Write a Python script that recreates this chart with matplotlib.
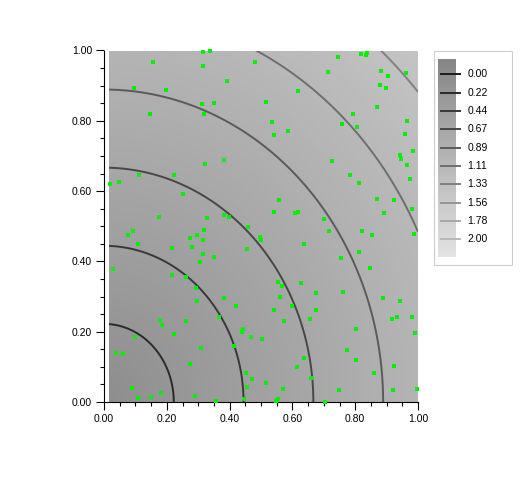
import numpy as np
import matplotlib
matplotlib.use("Agg")
import matplotlib.pyplot as plt
from matplotlib.colors import LinearSegmentedColormap, Normalize
from matplotlib.patches import Rectangle
from matplotlib.ticker import MultipleLocator, FormatStrFormatter

# contour levels and their line colours
levels = [0.0, 0.2222, 0.4444, 0.6667, 0.8889, 1.1111, 1.3333, 1.5556, 1.7778, 2.0]
level_labels = ['0.00', '0.22', '0.44', '0.67', '0.89', '1.11', '1.33', '1.56', '1.78', '2.00']
line_colors = ['#1c1c1c', '#2a2a2a', '#383838', '#474747', '#5a5a5a',
               '#6e6e6e', '#818181', '#959595', '#a8a8a8', '#bababa']

# scattered sample points
pts_x = [0.314, 0.337, 0.156, 0.314, 0.480, 0.392, 0.097, 0.197, 0.311, 0.350,
         0.145, 0.317, 0.381, 0.321, 0.746, 0.819, 0.838, 0.835, 0.713, 0.883,
         0.905, 0.963, 0.880, 0.899, 0.618, 0.516, 0.870, 0.794, 0.535, 0.586,
         0.542, 0.759, 0.806, 0.966, 0.959, 0.985, 0.944, 0.947, 0.966, 0.727,
         0.111, 0.223, 0.049, 0.019, 0.251, 0.175, 0.328, 0.382, 0.398, 0.459,
         0.092, 0.076, 0.317, 0.296, 0.273, 0.314, 0.497, 0.500, 0.108, 0.280,
         0.215, 0.456, 0.314, 0.350, 0.306, 0.028, 0.215, 0.261, 0.783, 0.812,
         0.975, 0.558, 0.870, 0.924, 0.541, 0.609, 0.618, 0.892, 0.981, 0.701,
         0.717, 0.822, 0.854, 0.987, 0.637, 0.813, 0.755, 0.848, 0.553, 0.628,
         0.293, 0.381, 0.419, 0.296, 0.177, 0.184, 0.260, 0.366, 0.443, 0.438,
         0.468, 0.503, 0.222, 0.098, 0.308, 0.413, 0.038, 0.060, 0.273, 0.452,
         0.471, 0.456, 0.088, 0.107, 0.149, 0.181, 0.289, 0.445, 0.357, 0.566,
         0.676, 0.762, 0.561, 0.889, 0.944, 0.598, 0.541, 0.676, 0.934, 0.917,
         0.982, 0.656, 0.574, 0.803, 0.991, 0.774, 0.637, 0.803, 0.615, 0.923,
         0.861, 0.660, 0.516, 0.570, 0.749, 0.921, 0.998, 0.553, 0.548, 0.704]
pts_y = [0.995, 0.998, 0.967, 0.956, 0.967, 0.913, 0.893, 0.887, 0.847, 0.850,
         0.819, 0.819, 0.688, 0.677, 0.981, 0.990, 0.993, 0.987, 0.939, 0.941,
         0.927, 0.936, 0.902, 0.893, 0.884, 0.853, 0.839, 0.819, 0.796, 0.771,
         0.759, 0.790, 0.782, 0.799, 0.762, 0.714, 0.702, 0.691, 0.674, 0.685,
         0.645, 0.645, 0.625, 0.620, 0.591, 0.526, 0.523, 0.531, 0.526, 0.497,
         0.486, 0.475, 0.489, 0.475, 0.466, 0.460, 0.469, 0.460, 0.449, 0.440,
         0.438, 0.435, 0.420, 0.412, 0.398, 0.378, 0.361, 0.355, 0.645, 0.623,
         0.634, 0.574, 0.577, 0.574, 0.540, 0.537, 0.540, 0.537, 0.549, 0.520,
         0.486, 0.486, 0.475, 0.477, 0.449, 0.426, 0.409, 0.381, 0.341, 0.339,
         0.324, 0.295, 0.272, 0.287, 0.233, 0.218, 0.230, 0.241, 0.207, 0.198,
         0.184, 0.178, 0.193, 0.184, 0.153, 0.159, 0.139, 0.136, 0.107, 0.082,
         0.065, 0.042, 0.039, 0.011, 0.013, 0.025, 0.016, 0.008, 0.002, 0.329,
         0.309, 0.312, 0.298, 0.295, 0.287, 0.272, 0.261, 0.261, 0.241, 0.235,
         0.241, 0.235, 0.230, 0.207, 0.196, 0.147, 0.124, 0.119, 0.099, 0.102,
         0.082, 0.067, 0.053, 0.036, 0.033, 0.033, 0.036, 0.008, 0.002, 0.000]

plt.rcParams['font.family'] = ['Liberation Sans', 'DejaVu Sans']
FS = 7.5

fill_cmap = LinearSegmentedColormap.from_list('fill', ['#868686', '#e3e3e3'])
fill_norm = Normalize(-0.2, 2.2)

fig = plt.figure(figsize=(5.22, 5.03), dpi=100)
ax = fig.add_axes([104 / 522, 101 / 503, 314 / 522, 351.5 / 503])

# distance field behind the contours
gx = np.linspace(0.016, 1.0, 300)
gy = np.linspace(0.0, 1.0, 300)
X, Y = np.meshgrid(gx, gy)
Z = np.sqrt(X ** 2 + Y ** 2)
ax.imshow(Z, extent=[0.016, 1, 0, 1], origin='lower', cmap=fill_cmap,
          norm=fill_norm, aspect='auto', interpolation='bilinear', zorder=1)

for lev, col in zip(levels, line_colors):
    if Z.min() < lev < Z.max():
        ax.contour(X, Y, Z, levels=[lev], colors=[col], linewidths=1.4, zorder=2)

ax.scatter(pts_x, pts_y, marker='s', s=8, color='#00f000', linewidths=0,
           zorder=5, clip_on=False)

ax.set_xlim(0, 1)
ax.set_ylim(0, 1)
for side in ('top', 'right'):
    ax.spines[side].set_visible(False)
for side in ('left', 'bottom'):
    ax.spines[side].set_linewidth(0.8)
ax.xaxis.set_major_locator(MultipleLocator(0.2))
ax.xaxis.set_minor_locator(MultipleLocator(0.05))
ax.yaxis.set_major_locator(MultipleLocator(0.2))
ax.yaxis.set_minor_locator(MultipleLocator(0.05))
ax.xaxis.set_major_formatter(FormatStrFormatter('%.2f'))
ax.yaxis.set_major_formatter(FormatStrFormatter('%.2f'))
ax.tick_params(which='major', direction='out', length=5.5, width=0.8,
               labelsize=FS, pad=3)
ax.tick_params(which='minor', direction='out', length=3, width=0.8)

# legend panel
lax = fig.add_axes([433 / 522, (503 - 265.5) / 503, 79.5 / 522, 215.5 / 503])
lax.axis('off')
lax.add_patch(Rectangle((0.5, 0.5), 78.5, 214.5, facecolor='white',
                        edgecolor='#cccccc', lw=0.8, zorder=0))
bar = np.linspace(-0.185, 2.21, 200)[:, None]
lax.imshow(bar, extent=[5.3, 22.7, 206.7, 9], origin='upper', cmap=fill_cmap,
           norm=fill_norm, aspect='auto', interpolation='bilinear', zorder=1)
for i, (lab, col) in enumerate(zip(level_labels, line_colors)):
    yy = 24.3 + i * 18.33
    lax.plot([7, 27.7], [yy, yy], color=col, lw=1.4, solid_capstyle='butt', zorder=2)
    lax.text(34.7, yy, lab, fontsize=FS, va='center', ha='left')
lax.set_xlim(0, 79.5)
lax.set_ylim(215.5, 0)

fig.savefig('out.png', dpi=100)
